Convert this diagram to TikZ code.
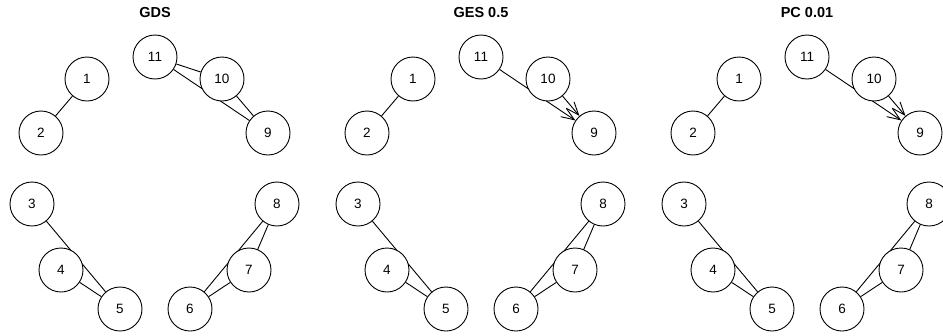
\documentclass[tikz,border=0pt]{standalone}
\usepackage{fontspec}
\setmainfont{Liberation Sans}
\usetikzlibrary{arrows.meta}
\pgfdeclarelayer{back}
\pgfsetlayers{back,main}
\tikzset{
  vert/.style={circle, draw=black, fill=white, line width=0.9pt, minimum size=44pt,
    inner sep=0pt, font=\fontsize{13.5}{16}\selectfont},
  edge/.style={draw=black, line width=0.9pt},
  dir/.style={edge, -{Straight Barb[length=13pt,width=10pt]}},
  ttl/.style={font=\fontsize{14.5}{17}\selectfont\bfseries},
}
\begin{document}
\begin{tikzpicture}[x=1pt,y=-1pt]
  \useasboundingbox (0,0) rectangle (943,335);
  % three panels, same layout
  \foreach \p/\dx/\t in {g/0/GDS, e/326/GES 0.5, c/652/PC 0.01}{
    \begin{scope}[xshift=\dx pt]
      \node[ttl] (\p t) at (155,13) {\t};
      \foreach \n/\x/\y in {1/87/79, 2/41/133, 11/155/57, 10/222/79, 9/268/133,
          3/32/204, 4/61/270, 5/120/309, 6/190/309, 7/249/270, 8/277/204}
        \node[vert] (\p\n) at (\x,\y) {\n};
    \end{scope}
  }
  % edges go under the nodes
  \begin{pgfonlayer}{back}
    \foreach \p in {g,e,c}
      \foreach \a/\b in {1/2, 3/5, 4/5, 8/6, 8/7, 7/6}
        \draw[edge] (\p\a) -- (\p\b);
    \foreach \a/\b in {11/10, 11/9, 10/9}
      \draw[edge] (g\a) -- (g\b);
    \foreach \p in {e,c}
      \foreach \a in {11,10}
        \draw[dir] (\p\a) -- (\p9);
  \end{pgfonlayer}
\end{tikzpicture}
\end{document}
